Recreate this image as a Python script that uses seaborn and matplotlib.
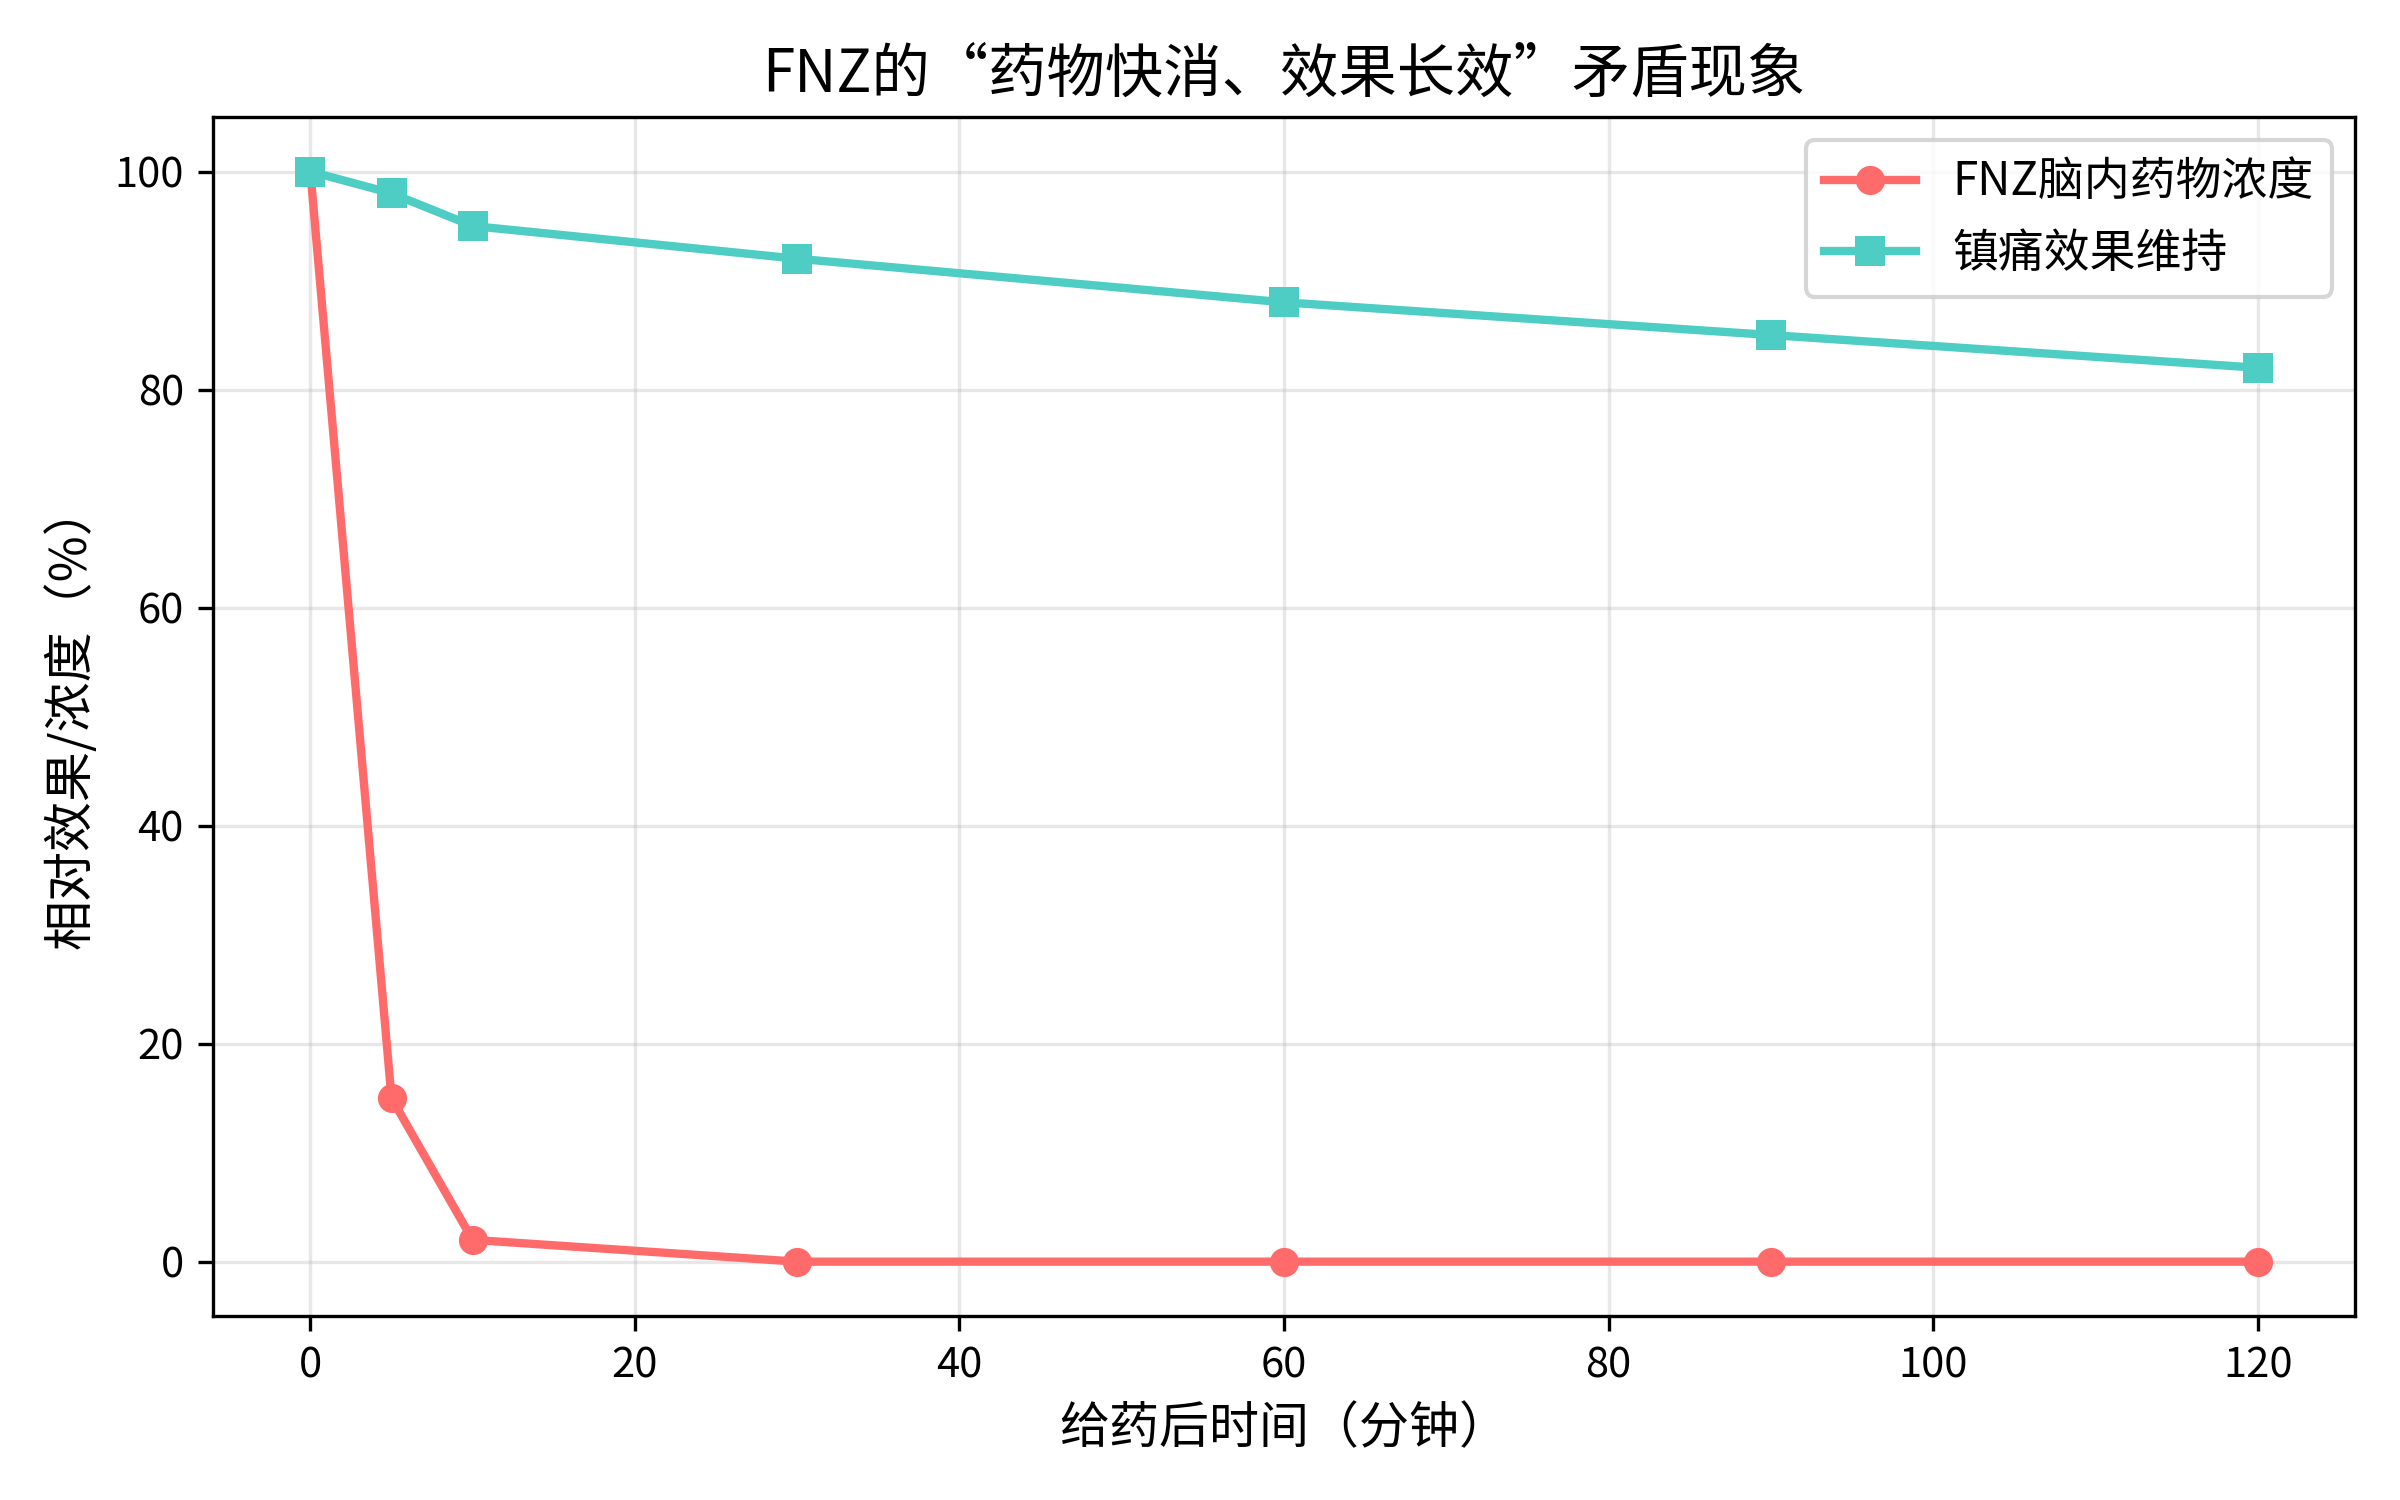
import numpy as np
import pandas as pd
import matplotlib
matplotlib.use('Agg')
import matplotlib.pyplot as plt
import seaborn as sns

# 数据
time_min = [0, 5, 10, 30, 60, 90, 120]
fnz_conc = [100, 15, 2, 0, 0, 0, 0]
analgesia = [100, 98, 95, 92, 88, 85, 82]

plt.rcParams['font.family'] = ['Noto Sans CJK SC', 'DejaVu Sans']
plt.rcParams['axes.unicode_minus'] = False

df = pd.DataFrame({'time': time_min, 'conc': fnz_conc, 'effect': analgesia})

fig, ax = plt.subplots(figsize=(8, 5), dpi=300)
sns.lineplot(data=df, x='time', y='conc', ax=ax, color='#FF6B6B', marker='o',
             markersize=7, markeredgewidth=0, linewidth=2, label='FNZ脑内药物浓度')
sns.lineplot(data=df, x='time', y='effect', ax=ax, color='#4ECDC4', marker='s',
             markersize=7, markeredgewidth=0, linewidth=2, label='镇痛效果维持')

ax.set_xlabel('给药后时间（分钟）', fontsize=12)
ax.set_ylabel('相对效果/浓度（%）', fontsize=12)
ax.set_title('FNZ的“药物快消、效果长效”矛盾现象', fontsize=14)
ax.grid(True, alpha=0.3)
ax.legend(fontsize=11, loc='upper right')

plt.tight_layout()
plt.savefig('out.png', dpi=300)
